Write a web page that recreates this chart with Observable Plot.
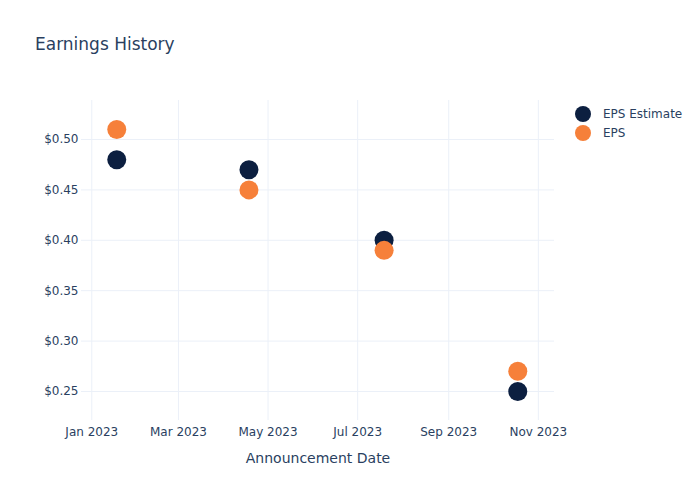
<!DOCTYPE html>
<html>
<head>
<meta charset="utf-8">
<script src="https://cdn.jsdelivr.net/npm/d3@7"></script>
<script src="https://cdn.jsdelivr.net/npm/@observablehq/plot@0.6"></script>
<style>
  body { margin: 0; background: #fff; font-family: "DejaVu Sans", sans-serif; }
  #wrap { position: relative; width: 700px; height: 500px; }
  #title { position: absolute; left: 35px; top: 34px; font-size: 17px; color: #2a3f5f; }
  .leg { position: absolute; left: 575px; font-size: 12px; color: #2a3f5f; display: flex; align-items: center; }
  .leg span.dot { width: 16px; height: 16px; border-radius: 50%; display: inline-block; margin-right: 12px; }
</style>
</head>
<body>
<div id="wrap">
  <div id="chart"></div>
  <div id="title">Earnings History</div>
</div>
<script>
const dates = ["2023-01-18", "2023-04-18", "2023-07-19", "2023-10-18"];
const epsEstimate = [0.48, 0.47, 0.40, 0.25];
const eps = [0.51, 0.45, 0.39, 0.27];
const seriesNames = ["EPS Estimate", "EPS"];
const seriesColors = ["#0c1f40", "#f6803a"];
const xTicks = ["2023-01-01", "2023-03-01", "2023-05-01", "2023-07-01", "2023-09-01", "2023-11-01"];
const yTicks = [0.25, 0.30, 0.35, 0.40, 0.45, 0.50];

const rows = [];
seriesNames.forEach((s, si) => {
  const vals = si === 0 ? epsEstimate : eps;
  dates.forEach((d, i) => rows.push({ series: s, date: new Date(d), value: vals[i] }));
});

const chart = Plot.plot({
  width: 700,
  height: 500,
  marginLeft: 81,
  marginRight: 146,
  marginTop: 100,
  marginBottom: 80,
  style: { fontFamily: "DejaVu Sans, sans-serif", fontSize: "12px", color: "#2a3f5f", background: "#fff" },
  x: { type: "utc", domain: [new Date("2022-12-25"), new Date("2023-11-12")] },
  y: { domain: [0.2212, 0.5387] },
  color: { domain: seriesNames, range: seriesColors },
  marks: [
    Plot.gridX(xTicks.map(d => new Date(d)), { stroke: "#ebf0f8", strokeOpacity: 1 }),
    Plot.gridY(yTicks, { stroke: "#ebf0f8", strokeOpacity: 1 }),
    Plot.axisX(xTicks.map(d => new Date(d)), { tickSize: 0, tickPadding: 7, tickFormat: d3.utcFormat("%b %Y"), label: null, fill: "#2a3f5f" }),
    Plot.axisY(yTicks, { tickSize: 0, tickPadding: 3, tickFormat: d3.format("$.2f"), label: null, fill: "#2a3f5f" }),
    Plot.text(["Announcement Date"], { frameAnchor: "bottom", dy: 42, fontSize: 14, fill: "#2a3f5f" }),
    Plot.dot(rows, { x: "date", y: "value", fill: "series", r: 9.5 })
  ]
});
document.getElementById("chart").appendChild(chart);

const wrap = document.getElementById("wrap");
seriesNames.forEach((s, i) => {
  const el = document.createElement("div");
  el.className = "leg";
  el.style.top = (106 + i * 19) + "px";
  el.innerHTML = `<span class="dot" style="background:${seriesColors[i]}"></span>${s}`;
  wrap.appendChild(el);
});
</script>
</body>
</html>
